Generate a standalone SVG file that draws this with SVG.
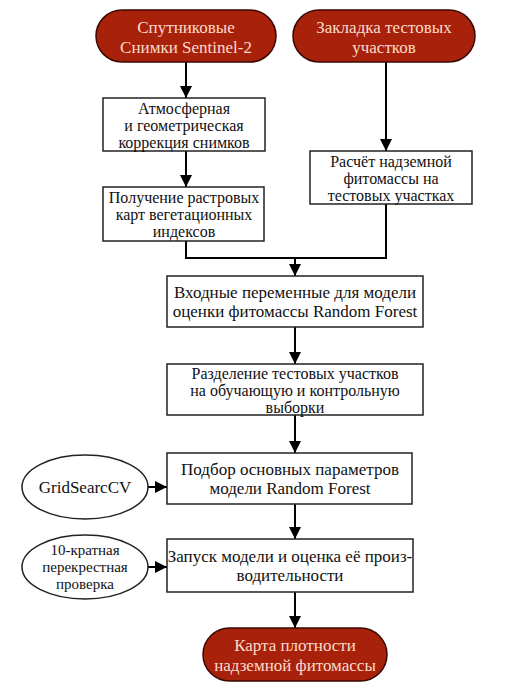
<svg xmlns="http://www.w3.org/2000/svg" width="522" height="692" viewBox="0 0 522 692">
<style>
.box{fill:#fff;stroke:#222;stroke-width:1.5}
.term{fill:#a8210b;stroke:#3a0800;stroke-width:1.5}
.ell{fill:#fff;stroke:#222;stroke-width:1.5}
.ln{fill:none;stroke:#000;stroke-width:2}
</style>
<defs>
<marker id="ah" markerWidth="12" markerHeight="12" viewBox="0 0 12 12" refX="12" refY="6" orient="auto" markerUnits="userSpaceOnUse">
<path d="M0,0 L12,6 L0,12 Z" fill="#000"/>
</marker>
</defs>
<rect width="522" height="692" fill="#fff"/>
<g id="connectors">
<line class="ln" x1="186" y1="62" x2="186" y2="98" marker-end="url(#ah)"/>
<line class="ln" x1="386" y1="62" x2="386" y2="151" marker-end="url(#ah)"/>
<line class="ln" x1="186" y1="151" x2="186" y2="187" marker-end="url(#ah)"/>
<polyline class="ln" points="186,241 186,258 386,258 386,204"/>
<line class="ln" x1="295" y1="258" x2="295" y2="276" marker-end="url(#ah)"/>
<line class="ln" x1="295" y1="327" x2="295" y2="364" marker-end="url(#ah)"/>
<line class="ln" x1="295" y1="415" x2="295" y2="453" marker-end="url(#ah)"/>
<line class="ln" x1="295" y1="504" x2="295" y2="539" marker-end="url(#ah)"/>
<line class="ln" x1="295" y1="592" x2="295" y2="628" marker-end="url(#ah)"/>
<line class="ln" x1="148" y1="487" x2="167" y2="487" marker-end="url(#ah)"/>
<line class="ln" x1="148" y1="567" x2="167" y2="567" marker-end="url(#ah)"/>
</g>
<g id="n1">
<rect class="term" x="96" y="10" width="180" height="52" rx="26"/>
<text font-family="'Liberation Serif'" font-size="17" fill="#fbdccc" text-anchor="middle" x="186" y="33">Спутниковые</text>
<text font-family="'Liberation Serif'" font-size="17" fill="#fbdccc" text-anchor="middle" x="186" y="53">Снимки Sentinel-2</text>
</g>
<g id="n2">
<rect class="term" x="293" y="10" width="182" height="52" rx="26"/>
<text font-family="'Liberation Serif'" font-size="17" fill="#fbdccc" text-anchor="middle" x="384" y="33">Закладка тестовых</text>
<text font-family="'Liberation Serif'" font-size="17" fill="#fbdccc" text-anchor="middle" x="384" y="53">участков</text>
</g>
<g id="n3">
<rect class="box" x="103" y="98" width="162" height="53"/>
<text font-family="'Liberation Serif'" font-size="16" fill="#111" text-anchor="middle" x="184" y="114">Атмосферная</text>
<text font-family="'Liberation Serif'" font-size="16" fill="#111" text-anchor="middle" x="184" y="131">и геометрическая</text>
<text font-family="'Liberation Serif'" font-size="16" fill="#111" text-anchor="middle" x="184" y="148">коррекция снимков</text>
</g>
<g id="n4">
<rect class="box" x="103" y="187" width="161" height="54"/>
<text font-family="'Liberation Serif'" font-size="16" fill="#111" text-anchor="middle" x="184" y="203">Получение растровых</text>
<text font-family="'Liberation Serif'" font-size="16" fill="#111" text-anchor="middle" x="184" y="220">карт вегетационных</text>
<text font-family="'Liberation Serif'" font-size="16" fill="#111" text-anchor="middle" x="184" y="237">индексов</text>
</g>
<g id="n5">
<rect class="box" x="310" y="151" width="162" height="53"/>
<text font-family="'Liberation Serif'" font-size="16" fill="#111" text-anchor="middle" x="391" y="167">Расчёт надземной</text>
<text font-family="'Liberation Serif'" font-size="16" fill="#111" text-anchor="middle" x="391" y="184">фитомассы на</text>
<text font-family="'Liberation Serif'" font-size="16" fill="#111" text-anchor="middle" x="391" y="201">тестовых участках</text>
</g>
<g id="n6">
<rect class="box" x="167" y="276" width="256" height="51"/>
<text font-family="'Liberation Serif'" font-size="17" fill="#111" text-anchor="middle" x="295" y="298">Входные переменные для модели</text>
<text font-family="'Liberation Serif'" font-size="17" fill="#111" text-anchor="middle" x="295" y="317">оценки фитомассы Random Forest</text>
</g>
<g id="n7">
<rect class="box" x="167" y="364" width="256" height="51"/>
<text font-family="'Liberation Serif'" font-size="16" fill="#111" text-anchor="middle" x="295" y="379">Разделение тестовых участков</text>
<text font-family="'Liberation Serif'" font-size="16" fill="#111" text-anchor="middle" x="295" y="396">на обучающую и контрольную</text>
<text font-family="'Liberation Serif'" font-size="16" fill="#111" text-anchor="middle" x="295" y="413">выборки</text>
</g>
<g id="n8">
<rect class="box" x="167" y="453" width="245" height="51"/>
<text font-family="'Liberation Serif'" font-size="17" fill="#111" text-anchor="middle" x="290" y="475">Подбор основных параметров</text>
<text font-family="'Liberation Serif'" font-size="17" fill="#111" text-anchor="middle" x="290" y="494">модели Random Forest</text>
</g>
<g id="n9">
<rect class="box" x="167" y="539" width="246" height="53"/>
<text font-family="'Liberation Serif'" font-size="17" fill="#111" text-anchor="middle" x="290" y="562">Запуск модели и оценка её произ-</text>
<text font-family="'Liberation Serif'" font-size="17" fill="#111" text-anchor="middle" x="290" y="581">водительности</text>
</g>
<g id="n10">
<ellipse class="ell" cx="85" cy="487" rx="63" ry="32"/>
<text font-family="'Liberation Serif'" font-size="17" fill="#111" text-anchor="middle" x="85" y="493">GridSearcCV</text>
</g>
<g id="n11">
<ellipse class="ell" cx="85" cy="567" rx="63" ry="32"/>
<text font-family="'Liberation Serif'" font-size="15" fill="#111" text-anchor="middle" x="85" y="555">10-кратная</text>
<text font-family="'Liberation Serif'" font-size="15" fill="#111" text-anchor="middle" x="85" y="572">перекрестная</text>
<text font-family="'Liberation Serif'" font-size="15" fill="#111" text-anchor="middle" x="85" y="589">проверка</text>
</g>
<g id="n12">
<rect class="term" x="203" y="628" width="184" height="53" rx="26.5"/>
<text font-family="'Liberation Serif'" font-size="17" fill="#fbdccc" text-anchor="middle" x="295" y="651">Карта плотности</text>
<text font-family="'Liberation Serif'" font-size="17" fill="#fbdccc" text-anchor="middle" x="295" y="671">надземной фитомассы</text>
</g>
</svg>
